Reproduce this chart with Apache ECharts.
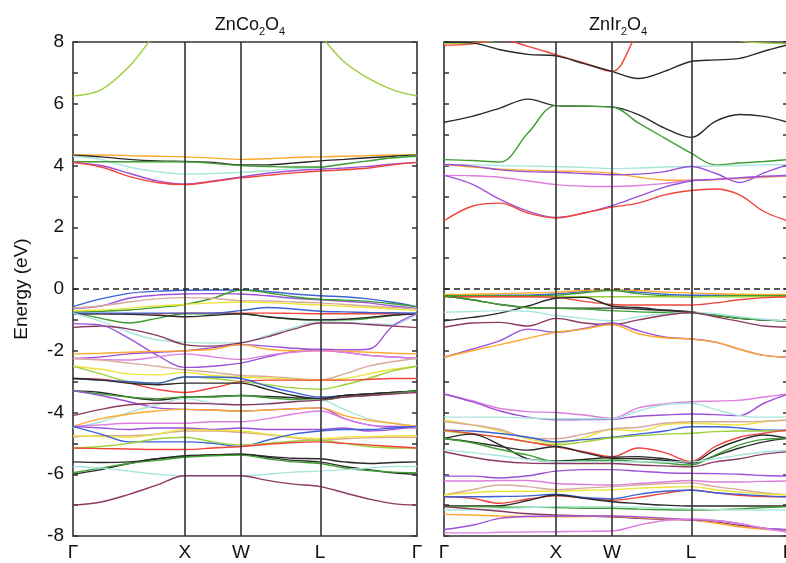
<!DOCTYPE html>
<html>
<head>
<meta charset="utf-8">
<script src="https://cdn.jsdelivr.net/npm/echarts@6/dist/echarts.min.js"></script>
<style>
  html, body { margin: 0; padding: 0; background: #fff; }
  #chart { width: 786px; height: 563px; }
</style>
</head>
<body>
<div id="chart"></div>
<script>
// k-path: Γ - X - W - L - Γ (fcc, units of 2π/a)
const kPath = [0, 0.25, 0.5, 0.75, 1, 1.25, 1.5, 1.736, 1.971, 2.207, 2.424, 2.64, 2.857, 3.073];
const kTicks = [0, 1, 1.5, 2.207, 3.073];
const kTickLabels = ["Γ", "X", "W", "L", "Γ"];
const eTicks = [-8, -6, -4, -2, 0, 2, 4, 6, 8];

// ZnCo2O4 bands (eV)
const coBands = [
  [6.25, 6.45, 7.2, 8.3, 9, 9.2, 9.2, 9.2, 8.9, 8.2, 7.35, 6.82, 6.45, 6.25],
  [4.35, 4.34, 4.32, 4.3, 4.28, 4.24, 4.2, 4.22, 4.26, 4.28, 4.3, 4.32, 4.34, 4.35],
  [4.33, 4.28, 4.2, 4.15, 4.13, 4.1, 4.02, 4.02, 4.08, 4.15, 4.2, 4.25, 4.3, 4.33],
  [4.3, 4.2, 3.95, 3.8, 3.72, 3.74, 3.78, 3.83, 3.9, 3.95, 4.05, 4.15, 4.25, 4.3],
  [4.12, 4.12, 4.12, 4.12, 4.12, 4.07, 4.0, 3.97, 3.95, 3.95, 4.05, 4.15, 4.25, 4.3],
  [4.1, 4.0, 3.75, 3.5, 3.4, 3.5, 3.63, 3.75, 3.83, 3.88, 3.92, 3.97, 4.05, 4.1],
  [4.1, 3.95, 3.65, 3.45, 3.38, 3.48, 3.6, 3.68, 3.76, 3.82, 3.86, 3.92, 4.02, 4.1],
  [-0.57, -0.32, -0.14, -0.07, -0.04, -0.03, -0.03, -0.08, -0.16, -0.22, -0.25, -0.32, -0.43, -0.57],
  [-0.63, -0.55, -0.3, -0.2, -0.16, -0.15, -0.16, -0.22, -0.3, -0.35, -0.4, -0.45, -0.55, -0.63],
  [-0.75, -0.72, -0.68, -0.6, -0.5, -0.3, -0.03, -0.12, -0.25, -0.33, -0.36, -0.4, -0.48, -0.58],
  [-0.75, -0.95, -1.1, -0.95, -0.8, -0.8, -0.8, -0.9, -0.98, -1.0, -1.0, -0.95, -0.85, -0.78],
  [-0.62, -0.55, -0.42, -0.32, -0.28, -0.3, -0.38, -0.39, -0.42, -0.45, -0.5, -0.55, -0.6, -0.65],
  [-0.7, -0.68, -0.62, -0.55, -0.5, -0.45, -0.42, -0.44, -0.48, -0.52, -0.56, -0.6, -0.65, -0.7],
  [-0.8, -0.8, -0.8, -0.8, -0.78, -0.78, -0.78, -0.78, -0.79, -0.8, -0.8, -0.8, -0.8, -0.8],
  [-0.8, -0.8, -0.82, -0.85, -0.9, -0.85, -0.8, -0.9, -0.97, -1.0, -0.98, -0.92, -0.85, -0.8],
  [-0.78, -0.78, -0.78, -0.78, -0.78, -0.78, -0.7, -0.6, -0.65, -0.72, -0.74, -0.76, -0.77, -0.78],
  [-0.78, -1.05, -1.4, -1.65, -1.72, -1.75, -1.73, -1.5, -1.25, -1.06, -1.08, -1.12, -1.15, -0.8],
  [-1.25, -1.2, -1.3, -1.5, -1.8, -1.85, -1.75, -1.55, -1.3, -1.1, -1.1, -1.15, -1.2, -1.25],
  [-1.12, -1.17, -1.6, -2.14, -2.54, -2.5, -2.4, -2.2, -2.02, -1.95, -1.97, -1.95, -1.2, -0.8],
  [-2.25, -2.2, -2.1, -2.05, -2.0, -1.9, -1.8, -1.85, -1.92, -1.97, -2.05, -2.15, -2.2, -2.25],
  [-2.1, -2.08, -2.05, -2.02, -2.0, -1.95, -1.8, -1.95, -2.0, -2.0, -2.02, -2.05, -2.08, -2.1],
  [-2.25, -2.28, -2.3, -2.2, -2.1, -2.2, -2.28, -2.15, -2.05, -2.0, -2.05, -2.15, -2.2, -2.25],
  [-2.25, -2.3, -2.4, -2.5, -2.62, -2.7, -2.8, -2.83, -2.9, -2.95, -2.75, -2.5, -2.35, -2.25],
  [-2.5, -2.6, -2.75, -2.78, -2.7, -2.8, -2.85, -2.88, -2.92, -2.95, -2.9, -2.75, -2.6, -2.5],
  [-2.5, -2.75, -3.0, -3.05, -2.85, -2.9, -3.0, -3.1, -3.2, -3.25, -3.1, -2.9, -2.65, -2.5],
  [-2.9, -2.92, -3.05, -3.25, -3.35, -3.2, -3.0, -2.95, -2.95, -2.95, -2.95, -2.93, -2.9, -2.9],
  [-2.9, -2.95, -3.0, -3.05, -2.85, -2.85, -2.9, -3.15, -3.35, -3.5, -3.45, -3.4, -3.35, -3.3],
  [-2.9, -2.95, -3.05, -3.1, -3.05, -3.05, -3.05, -3.25, -3.45, -3.55, -3.45, -3.4, -3.35, -3.3],
  [-3.3, -3.35, -3.5, -3.6, -3.5, -3.48, -3.45, -3.48, -3.52, -3.55, -3.45, -3.4, -3.35, -3.3],
  [-3.3, -3.4, -3.5, -3.55, -3.5, -3.5, -3.45, -3.52, -3.58, -3.6, -3.5, -3.45, -3.38, -3.3],
  [-3.3, -3.45, -3.65, -3.85, -3.9, -3.92, -3.95, -3.92, -3.88, -3.85, -4.2, -4.4, -4.45, -4.45],
  [-4.5, -4.3, -4.0, -3.75, -3.55, -3.7, -3.75, -3.7, -3.65, -3.6, -3.9, -4.2, -4.35, -4.45],
  [-4.45, -4.2, -4.05, -3.95, -3.9, -3.92, -3.95, -3.92, -3.88, -3.85, -4.1, -4.25, -4.35, -4.45],
  [-4.1, -3.9, -3.75, -3.7, -3.7, -3.72, -3.75, -3.72, -3.65, -3.6, -3.5, -3.45, -3.4, -3.35],
  [-4.45, -4.4, -4.35, -4.35, -4.35, -4.3, -4.3, -4.2, -4.05, -3.95, -4.2, -4.4, -4.5, -4.5],
  [-4.45, -4.5, -4.55, -4.5, -4.5, -4.55, -4.5, -4.55, -4.55, -4.55, -4.5, -4.6, -4.55, -4.45],
  [-4.8, -4.75, -4.75, -4.7, -4.6, -4.6, -4.65, -4.72, -4.82, -4.9, -4.85, -4.82, -4.8, -4.8],
  [-4.75, -4.78, -4.8, -4.7, -4.55, -4.58, -4.6, -4.7, -4.8, -4.85, -4.8, -4.78, -4.76, -4.75],
  [-4.45, -4.7, -4.95, -4.95, -4.95, -5.0, -5.1, -4.9, -4.7, -4.6, -4.55, -4.55, -4.5, -4.45],
  [-5.15, -5.1, -5.0, -4.85, -4.8, -4.95, -5.05, -5.0, -4.93, -4.9, -5.0, -5.1, -5.15, -5.15],
  [-5.15, -5.17, -5.18, -5.2, -5.2, -5.15, -5.1, -5.03, -4.97, -4.95, -5.0, -5.05, -5.1, -5.15],
  [-6.0, -5.85, -5.65, -5.5, -5.4, -5.37, -5.35, -5.45, -5.55, -5.6, -5.75, -5.85, -5.95, -6.0],
  [-5.6, -5.62, -5.6, -5.5, -5.42, -5.38, -5.35, -5.42, -5.48, -5.5, -5.6, -5.65, -5.62, -5.6],
  [-5.95, -5.8, -5.65, -5.55, -5.45, -5.4, -5.38, -5.5, -5.6, -5.65, -5.8, -5.88, -5.93, -5.95],
  [-5.75, -5.8, -5.9, -6.0, -6.05, -6.05, -6.05, -6.0, -5.93, -5.9, -5.85, -5.8, -5.75, -5.75],
  [-7.0, -6.9, -6.65, -6.35, -6.05, -6.05, -6.05, -6.2, -6.32, -6.4, -6.6, -6.8, -6.95, -7.0]
];
const coColors = [
  "yellowgreen", "orange", "black", "cyan", "green", "purple", "red",
  "blue", "purple", "green", "green", "salmon", "yellow", "red", "black", "blue", "cyan", "maroon",
  "purple", "purple", "orange", "orchid", "salmon", "yellow", "yellowgreen", "red", "blue", "black",
  "black", "green", "purple", "cyan", "orange", "maroon", "orchid", "purple", "salmon", "yellow",
  "blue", "yellowgreen", "red", "black", "black", "green", "cyan", "maroon"
];

// ZnIr2O4 bands (eV)
const irBands = [
  [7.95, 7.97, 8.1, 8.6, 9, 9, 9, 9, 9, 9, 8.6, 8.05, 7.97, 7.95],
  [7.89, 7.94, 8.08, 7.86, 7.59, 7.32, 7.05, 8.3, 9, 9.5, 9.5, 9.5, 9.5, 9.5],
  [8.0, 7.97, 7.75, 7.6, 7.55, 7.3, 7.05, 6.82, 7.05, 7.37, 7.42, 7.47, 7.7, 7.91],
  [5.4, 5.59, 5.86, 6.15, 5.94, 5.92, 5.9, 5.65, 5.21, 4.91, 5.43, 5.65, 5.59, 5.4],
  [4.19, 4.16, 4.11, 5.05, 5.94, 5.92, 5.9, 5.38, 4.89, 4.4, 4.02, 4.08, 4.13, 4.19],
  [4.03, 4.02, 4.0, 3.98, 3.97, 3.94, 3.9, 3.92, 3.95, 3.97, 3.98, 4.0, 4.02, 4.03],
  [4.03, 3.95, 3.88, 3.85, 3.82, 3.8, 3.75, 3.62, 3.53, 3.52, 3.54, 3.58, 3.62, 3.65],
  [4.03, 3.98, 3.86, 3.8, 3.78, 3.74, 3.7, 3.72, 3.8, 3.97, 3.75, 3.45, 3.76, 4.03],
  [3.68, 3.67, 3.62, 3.5, 3.38, 3.33, 3.32, 3.35, 3.42, 3.52, 3.56, 3.6, 3.64, 3.68],
  [3.68, 3.4, 2.9, 2.52, 2.32, 2.46, 2.7, 3.0, 3.3, 3.5, 3.55, 3.6, 3.65, 3.68],
  [2.21, 2.68, 2.78, 2.46, 2.3, 2.46, 2.65, 2.78, 3.05, 3.19, 3.24, 3.05, 2.51, 2.21],
  [-0.2, -0.2, -0.2, -0.2, -0.16, -0.08, -0.02, -0.1, -0.17, -0.2, -0.2, -0.2, -0.2, -0.2],
  [-0.18, -0.17, -0.15, -0.13, -0.1, -0.05, -0.02, -0.05, -0.1, -0.13, -0.15, -0.17, -0.18, -0.18],
  [-0.22, -0.22, -0.22, -0.22, -0.2, -0.12, -0.05, -0.15, -0.22, -0.25, -0.23, -0.22, -0.22, -0.22],
  [-0.25, -0.25, -0.25, -0.25, -0.25, -0.25, -0.25, -0.25, -0.25, -0.25, -0.25, -0.25, -0.25, -0.25],
  [-0.25, -0.25, -0.25, -0.25, -0.27, -0.4, -0.5, -0.52, -0.52, -0.52, -0.45, -0.35, -0.28, -0.25],
  [-0.22, -0.35, -0.5, -0.6, -0.62, -0.62, -0.62, -0.65, -0.7, -0.75, -0.85, -0.95, -1.0, -1.03],
  [-1.03, -0.92, -0.78, -0.55, -0.3, -0.27, -0.55, -0.6, -0.68, -0.74, -0.85, -0.95, -1.0, -1.03],
  [-0.22, -0.35, -0.5, -0.6, -0.62, -0.65, -0.7, -0.74, -0.76, -0.78, -0.85, -0.95, -1.0, -1.03],
  [-0.75, -0.73, -0.7, -0.72, -0.86, -0.95, -1.03, -0.9, -0.8, -0.76, -0.8, -0.9, -0.98, -1.03],
  [-1.24, -1.1, -1.08, -1.2, -0.95, -1.1, -1.15, -1.0, -0.85, -0.76, -0.9, -1.05, -1.2, -1.24],
  [-2.21, -1.95, -1.67, -1.3, -1.4, -1.28, -1.1, -1.35, -1.55, -1.62, -1.72, -1.95, -2.15, -2.21],
  [-2.21, -2.0, -1.8, -1.6, -1.4, -1.3, -1.15, -1.45, -1.58, -1.62, -1.72, -1.95, -2.15, -2.21],
  [-3.4, -3.62, -3.87, -3.97, -4.0, -4.08, -4.19, -3.85, -3.72, -3.65, -3.63, -3.6, -3.5, -3.4],
  [-3.4, -3.65, -3.95, -4.15, -4.24, -4.23, -4.22, -4.12, -4.08, -4.05, -4.07, -4.1, -3.7, -3.4],
  [-4.15, -4.15, -4.15, -4.18, -4.2, -4.2, -4.2, -3.95, -3.75, -3.7, -3.9, -4.1, -4.15, -4.15],
  [-4.24, -4.4, -4.6, -4.85, -5.0, -4.82, -4.55, -4.6, -4.4, -4.35, -4.38, -4.4, -4.3, -4.24],
  [-4.3, -4.4, -4.55, -4.82, -4.85, -4.7, -4.53, -4.48, -4.35, -4.3, -4.3, -4.3, -4.28, -4.25],
  [-4.57, -4.6, -4.68, -4.8, -4.95, -4.88, -4.8, -4.7, -4.6, -4.46, -4.46, -4.5, -4.57, -4.57],
  [-4.6, -4.7, -4.8, -4.95, -5.05, -4.95, -4.82, -4.75, -4.7, -4.67, -4.62, -4.6, -4.6, -4.6],
  [-4.57, -4.68, -4.8, -4.95, -5.11, -5.27, -5.43, -5.15, -5.3, -5.59, -5.1, -4.8, -4.67, -4.57],
  [-4.84, -4.7, -5.05, -5.5, -5.57, -5.52, -5.45, -5.43, -5.5, -5.62, -5.2, -4.9, -4.73, -4.84],
  [-4.84, -4.95, -5.1, -5.22, -5.1, -5.3, -5.48, -5.5, -5.55, -5.64, -5.4, -5.15, -4.95, -4.84],
  [-4.84, -4.98, -5.2, -5.38, -5.59, -5.57, -5.54, -5.59, -5.64, -5.7, -5.38, -5.05, -4.87, -4.84],
  [-5.22, -5.3, -5.4, -5.52, -5.59, -5.59, -5.59, -5.6, -5.6, -5.6, -5.5, -5.38, -5.28, -5.22],
  [-5.27, -5.45, -5.58, -5.64, -5.65, -5.65, -5.65, -5.7, -5.73, -5.76, -5.6, -5.5, -5.35, -5.27],
  [-6.06, -6.06, -6.12, -6.05, -5.9, -5.85, -5.85, -5.9, -5.95, -5.97, -5.98, -6.0, -6.04, -6.06],
  [-6.22, -6.22, -6.2, -6.2, -6.3, -6.33, -6.35, -6.3, -6.25, -6.2, -6.25, -6.25, -6.23, -6.22],
  [-6.67, -6.5, -6.35, -6.4, -6.5, -6.45, -6.4, -6.35, -6.3, -6.28, -6.4, -6.5, -6.6, -6.67],
  [-6.67, -6.6, -6.55, -6.55, -6.55, -6.52, -6.5, -6.45, -6.42, -6.4, -6.5, -6.58, -6.64, -6.67],
  [-6.73, -6.78, -6.94, -6.8, -6.7, -6.77, -6.84, -6.75, -6.62, -6.51, -6.6, -6.68, -6.72, -6.73],
  [-6.73, -6.73, -6.72, -6.7, -6.65, -6.75, -6.8, -6.65, -6.55, -6.52, -6.6, -6.65, -6.7, -6.73],
  [-7.03, -7.03, -7.02, -6.85, -6.67, -6.78, -6.89, -6.95, -7.0, -7.03, -7.03, -7.03, -7.03, -7.03],
  [-7.05, -7.05, -7.06, -7.07, -7.08, -7.1, -7.1, -7.13, -7.15, -7.16, -7.15, -7.12, -7.08, -7.05],
  [-7.16, -7.15, -7.12, -7.08, -7.05, -7.05, -7.05, -7.07, -7.1, -7.12, -7.14, -7.16, -7.16, -7.16],
  [-7.05, -7.12, -7.2, -7.28, -7.32, -7.35, -7.38, -7.43, -7.46, -7.48, -7.55, -7.65, -7.75, -7.81],
  [-7.3, -7.32, -7.35, -7.37, -7.38, -7.37, -7.36, -7.4, -7.44, -7.48, -7.58, -7.7, -7.78, -7.81],
  [-7.79, -7.65, -7.43, -7.37, -7.35, -7.35, -7.35, -7.38, -7.42, -7.48, -7.5, -7.6, -7.75, -7.79],
  [-7.9, -7.9, -7.88, -7.87, -7.86, -7.85, -7.84, -7.65, -7.5, -7.45, -7.5, -7.6, -7.75, -7.88]
];
const irColors = [
  "yellowgreen", "red", "black", "black", "green", "cyan", "orange", "purple", "orchid", "purple", "red",
  "blue", "orange", "green", "yellowgreen", "red", "black", "black", "green", "cyan", "maroon", "purple", "orange",
  "orchid", "purple", "cyan", "yellow", "salmon", "blue", "yellowgreen", "red", "black", "black", "green", "cyan",
  "maroon", "purple", "orchid", "salmon", "yellow", "red", "blue", "black", "green", "cyan", "maroon", "orange",
  "purple", "orchid"
];

const palette = {
  red: "#f2443a", black: "#2a2a2a", blue: "#3b63d6", green: "#3f9e32", yellowgreen: "#9ccf3a",
  orange: "#ffaa2e", cyan: "#a9e6dc", purple: "#9c52d8", orchid: "#de7ee0", salmon: "#d9aa9c",
  yellow: "#ece43a", maroon: "#8c3a64"
};

const FONT = "Liberation Sans, Arial, sans-serif";
const chart = echarts.init(document.getElementById("chart"), null, { renderer: "canvas" });

function bandSeries(bands, colors, gi) {
  return bands.map((b, i) => ({
    type: "line",
    xAxisIndex: gi,
    yAxisIndex: gi * 2,
    data: b.map((e, j) => [kPath[j], e]),
    smooth: 0.35,
    symbol: "none",
    clip: true,
    silent: true,
    lineStyle: { color: palette[colors[i]], width: 1.4 },
    z: 2
  }));
}

function markerSeries(gi) {
  const vline = { color: "#333", width: 1.6, type: "solid" };
  return {
    type: "line",
    xAxisIndex: gi,
    yAxisIndex: gi * 2,
    data: [],
    symbol: "none",
    silent: true,
    z: 5,
    markLine: {
      symbol: "none",
      silent: true,
      label: { show: false },
      data: [
        { xAxis: kTicks[1], lineStyle: vline },
        { xAxis: kTicks[2], lineStyle: vline },
        { xAxis: kTicks[3], lineStyle: vline },
        { yAxis: 0, lineStyle: { color: "#222", width: 1.6, type: [6, 4] } }
      ]
    }
  };
}

function xAxisFor(gi) {
  return {
    type: "value", gridIndex: gi, min: 0, max: kTicks[4],
    axisLine: { show: false }, axisTick: { show: false }, splitLine: { show: false },
    axisLabel: {
      customValues: kTicks,
      margin: 7,
      fontSize: 19,
      color: "#111",
      fontFamily: FONT,
      formatter: (v) => {
        const i = kTicks.findIndex((t) => Math.abs(t - v) < 1e-6);
        return i >= 0 ? kTickLabels[i] : "";
      }
    }
  };
}

function yAxisFor(gi, side, labels) {
  const ax = {
    type: "value", gridIndex: gi, position: side, min: -8, max: 8, interval: 1,
    axisLine: { show: false },
    axisTick: { show: true, inside: true, length: 5, lineStyle: { color: "#333", width: 1.5 } },
    splitLine: { show: false },
    axisLabel: {
      show: labels,
      fontSize: 19,
      color: "#111",
      margin: 9,
      fontFamily: FONT,
      formatter: (v) => (eTicks.indexOf(v) >= 0 ? String(v) : "")
    }
  };
  if (labels) {
    ax.name = "Energy (eV)";
    ax.nameLocation = "middle";
    ax.nameGap = 42;
    ax.nameRotate = 90;
    ax.nameTextStyle = { fontSize: 19, color: "#111", fontFamily: FONT };
  }
  return ax;
}

const titleRich = {
  n: { fontSize: 18, fontWeight: "normal", color: "#111", lineHeight: 24, fontFamily: FONT },
  s: { fontSize: 11, fontWeight: "normal", color: "#111", lineHeight: 12, verticalAlign: "bottom", fontFamily: FONT }
};

const option = {
  animation: false,
  backgroundColor: "#fff",
  title: [
    { text: "{n|ZnCo}{s|2}{n|O}{s|4}", left: 245, top: 8, textAlign: "center", textStyle: { fontWeight: "normal", rich: titleRich } },
    { text: "{n|ZnIr}{s|2}{n|O}{s|4}", left: 613, top: 8, textAlign: "center", textStyle: { fontWeight: "normal", rich: titleRich } }
  ],
  grid: [
    { left: 73, top: 42, width: 344, height: 494, outerBoundsMode: "none", show: true, borderColor: "#333", borderWidth: 1.6, backgroundColor: "transparent" },
    { left: 444, top: 42, width: 344, height: 494, outerBoundsMode: "none", show: true, borderColor: "#333", borderWidth: 1.6, backgroundColor: "transparent" }
  ],
  xAxis: [xAxisFor(0), xAxisFor(1)],
  yAxis: [yAxisFor(0, "left", true), yAxisFor(0, "right", false), yAxisFor(1, "left", false), yAxisFor(1, "right", false)],
  series: [
    ...bandSeries(coBands, coColors, 0),
    ...bandSeries(irBands, irColors, 1),
    markerSeries(0),
    markerSeries(1)
  ]
};

chart.setOption(option);
</script>
</body>
</html>
